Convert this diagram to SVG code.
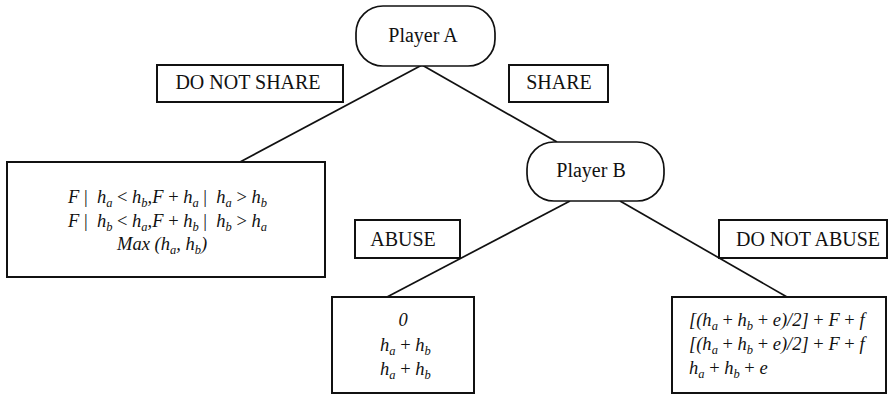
<svg xmlns="http://www.w3.org/2000/svg" width="889" height="395" viewBox="0 0 889 395">
  <style>
    text { font-family: "Times New Roman", "Liberation Serif", "DejaVu Serif", serif; fill: #111; }
    .lbl { font-size: 20px; text-anchor: middle; }
    .node { font-size: 20px; text-anchor: middle; }
    .m { font-size: 18.5px; font-style: italic; }
    .op { font-style: normal; }
    .sub { font-size: 12.5px; }
    .box { fill: #fff; stroke: #111; stroke-width: 2; }
    .rnd { fill: #fff; stroke: #111; stroke-width: 1.7; }
    .edge { stroke: #111; stroke-width: 1.7; fill: none; }
  </style>

  <!-- tree branches -->
  <g id="connectors">
    <line class="edge" x1="422" y1="65" x2="240" y2="162"/>
    <line class="edge" x1="422" y1="65" x2="557" y2="142"/>
    <line class="edge" x1="570" y1="201" x2="387" y2="297"/>
    <line class="edge" x1="620" y1="201" x2="787" y2="297"/>
  </g>

  <!-- decision nodes -->
  <g id="player-a">
    <rect class="rnd" x="356" y="6" width="139" height="60" rx="27" ry="27"/>
    <text class="node" x="423" y="42">Player A</text>
  </g>
  <g id="player-b">
    <rect class="rnd" x="527" y="142" width="137" height="59" rx="27" ry="27"/>
    <text class="node" x="591" y="177">Player B</text>
  </g>

  <!-- branch labels -->
  <g id="label-do-not-share">
    <rect class="box" x="157" y="65" width="186" height="37"/>
    <text class="lbl" x="248" y="89">DO NOT SHARE</text>
  </g>
  <g id="label-share">
    <rect class="box" x="509" y="65" width="99" height="37"/>
    <text class="lbl" x="559" y="89">SHARE</text>
  </g>
  <g id="label-abuse">
    <rect class="box" x="355" y="220" width="105" height="38"/>
    <text class="lbl" x="403" y="246">ABUSE</text>
  </g>
  <g id="label-do-not-abuse">
    <rect class="box" x="719" y="220" width="168" height="38"/>
    <text class="lbl" x="808" y="246">DO NOT ABUSE</text>
  </g>

  <!-- payoff: Player A does not share -->
  <g id="payoff-no-share">
    <rect class="box" x="7" y="162" width="318" height="115"/>
    <text class="m" x="68" y="203">F<tspan class="op"> |&#160; </tspan>h<tspan class="sub" dy="4">a</tspan><tspan class="op" dy="-4"> &lt; </tspan>h<tspan class="sub" dy="4">b</tspan><tspan dy="-4">,F</tspan><tspan class="op"> + </tspan>h<tspan class="sub" dy="4">a</tspan><tspan class="op" dy="-4"> |&#160; </tspan>h<tspan class="sub" dy="4">a</tspan><tspan class="op" dy="-4"> &gt; </tspan>h<tspan class="sub" dy="4">b</tspan></text>
    <text class="m" x="68" y="227">F<tspan class="op"> |&#160; </tspan>h<tspan class="sub" dy="4">b</tspan><tspan class="op" dy="-4"> &lt; </tspan>h<tspan class="sub" dy="4">a</tspan><tspan dy="-4">,F</tspan><tspan class="op"> + </tspan>h<tspan class="sub" dy="4">b</tspan><tspan class="op" dy="-4"> |&#160; </tspan>h<tspan class="sub" dy="4">b</tspan><tspan class="op" dy="-4"> &gt; </tspan>h<tspan class="sub" dy="4">a</tspan></text>
    <text class="m" x="117" y="250">Max (h<tspan class="sub" dy="4">a</tspan><tspan dy="-4">, h</tspan><tspan class="sub" dy="4">b</tspan><tspan dy="-4">)</tspan></text>
  </g>

  <!-- payoff: B abuses -->
  <g id="payoff-abuse">
    <rect class="box" x="332" y="297" width="142" height="96"/>
    <text class="m" x="403" y="326" text-anchor="middle">0</text>
    <text class="m" x="380" y="351">h<tspan class="sub" dy="4">a</tspan><tspan class="op" dy="-4"> + </tspan>h<tspan class="sub" dy="4">b</tspan></text>
    <text class="m" x="380" y="375">h<tspan class="sub" dy="4">a</tspan><tspan class="op" dy="-4"> + </tspan>h<tspan class="sub" dy="4">b</tspan></text>
  </g>

  <!-- payoff: B does not abuse -->
  <g id="payoff-no-abuse">
    <rect class="box" x="672" y="297" width="214" height="96"/>
    <text class="m" x="689" y="326">[(h<tspan class="sub" dy="4">a</tspan><tspan class="op" dy="-4"> + </tspan>h<tspan class="sub" dy="4">b</tspan><tspan class="op" dy="-4"> + </tspan>e)/2]<tspan class="op"> + </tspan>F<tspan class="op"> + </tspan>f</text>
    <text class="m" x="689" y="350">[(h<tspan class="sub" dy="4">a</tspan><tspan class="op" dy="-4"> + </tspan>h<tspan class="sub" dy="4">b</tspan><tspan class="op" dy="-4"> + </tspan>e)/2]<tspan class="op"> + </tspan>F<tspan class="op"> + </tspan>f</text>
    <text class="m" x="689" y="374">h<tspan class="sub" dy="4">a</tspan><tspan class="op" dy="-4"> + </tspan>h<tspan class="sub" dy="4">b</tspan><tspan class="op" dy="-4"> + </tspan>e</text>
  </g>
</svg>
